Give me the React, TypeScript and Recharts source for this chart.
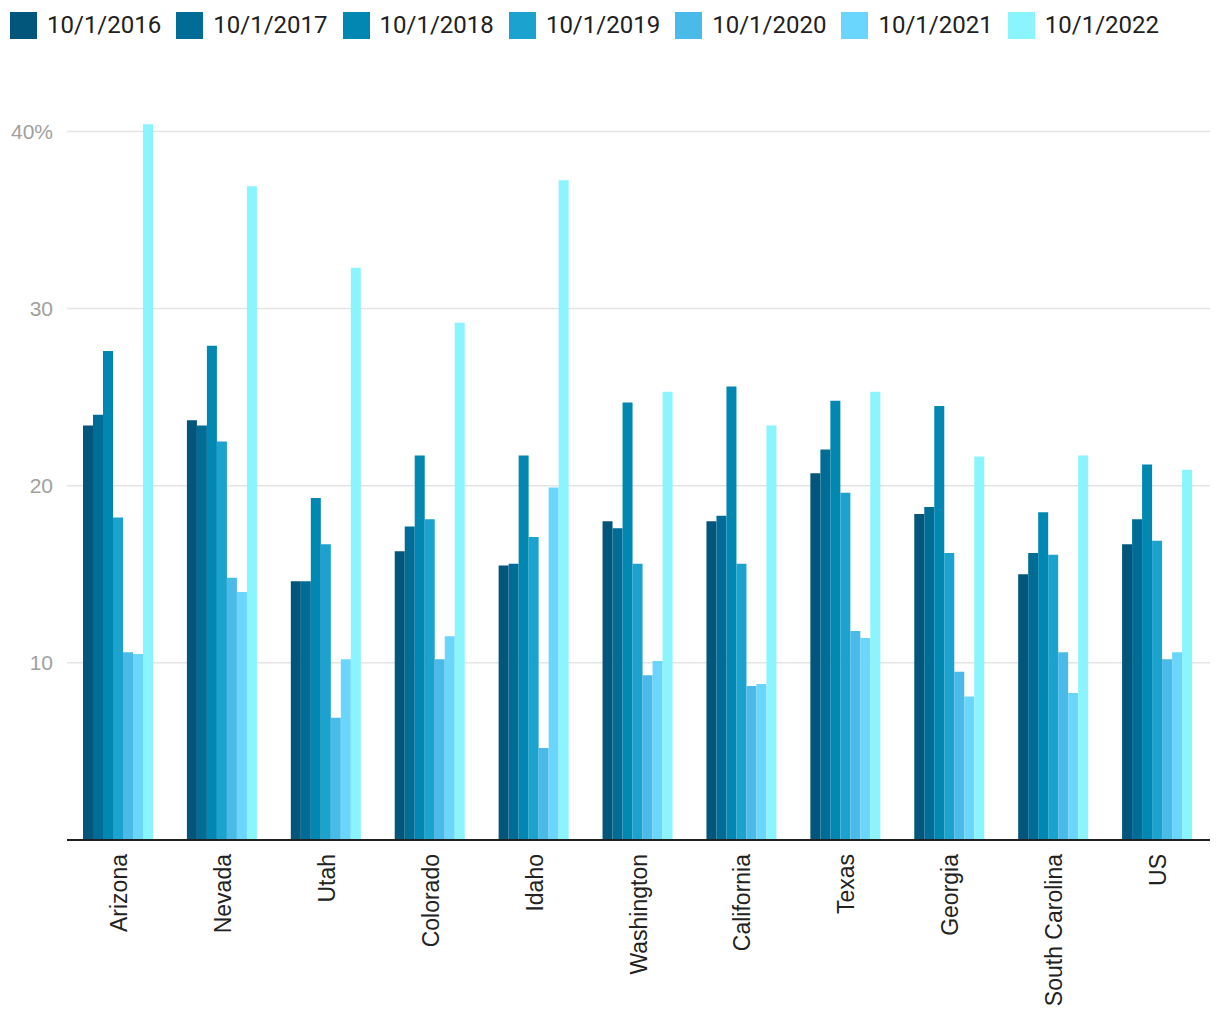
import React from "react";
import {
    BarChart,
    Bar,
    XAxis,
    YAxis,
    CartesianGrid,
    Legend,
} from "recharts";

const states = [
    "Arizona",
    "Nevada",
    "Utah",
    "Colorado",
    "Idaho",
    "Washington",
    "California",
    "Texas",
    "Georgia",
    "South Carolina",
    "US",
];

const years = [
    "10/1/2016",
    "10/1/2017",
    "10/1/2018",
    "10/1/2019",
    "10/1/2020",
    "10/1/2021",
    "10/1/2022",
];

const v2016 = [23.4, 23.7, 14.6, 16.3, 15.5, 18.0, 18.0, 20.7, 18.4, 15.0, 16.7];
const v2017 = [24.0, 23.4, 14.6, 17.7, 15.6, 17.6, 18.3, 22.05, 18.8, 16.2, 18.1];
const v2018 = [27.6, 27.9, 19.3, 21.7, 21.7, 24.7, 25.6, 24.8, 24.5, 18.5, 21.2];
const v2019 = [18.2, 22.5, 16.7, 18.1, 17.1, 15.6, 15.6, 19.6, 16.2, 16.1, 16.9];
const v2020 = [10.6, 14.8, 6.9, 10.2, 5.2, 9.3, 8.7, 11.8, 9.5, 10.6, 10.2];
const v2021 = [10.5, 14.0, 10.2, 11.5, 19.9, 10.1, 8.8, 11.4, 8.1, 8.3, 10.6];
const v2022 = [40.4, 36.9, 32.3, 29.2, 37.25, 25.3, 23.4, 25.3, 21.65, 21.7, 20.9];

const yTicks = [10, 20, 30, 40];
const yMax = 42;

const colors = ["#02557b", "#016d97", "#0088b2", "#1ba2ce", "#4abbe8", "#6ad6fe", "#8af4ff"];

const seriesValues = [v2016, v2017, v2018, v2019, v2020, v2021, v2022];
const keys = years.map((_, i) => `s${i}`);

const data = states.map((name, i) => {
    const row: any = { name };
    keys.forEach((k, j) => {
        row[k] = seriesValues[j][i];
    });
    return row;
});

const StateTick = ({ x, y, payload }: any) => (
    <text
        x={x}
        y={y}
        dy="0.35em"
        transform={`rotate(-90, ${x}, ${y})`}
        textAnchor="end"
        fill="#222"
        fontSize={23}
        fontFamily="'Liberation Sans', Arial, sans-serif"
    >
        {payload.value}
    </text>
);

const LegendContent = () => (
    <div style={{ height: 52, display: "flex", paddingLeft: 10, paddingTop: 12, boxSizing: "border-box" }}>
        {years.map((y, i) => (
            <div key={y} style={{ width: 166.3, display: "flex", alignItems: "center", height: 27 }}>
                <span style={{ width: 27, height: 27, background: colors[i], display: "inline-block" }} />
                <span
                    style={{
                        marginLeft: 10,
                        fontFamily: "Roboto, sans-serif",
                        fontSize: 24,
                        color: "#212121",
                        lineHeight: "27px",
                    }}
                >
                    {y}
                </span>
            </div>
        ))}
    </div>
);

// grid lines only at the labelled ticks, not at the top of the domain
const gridRows = ({ offset }: any) => {
    if (!offset) return [];
    return yTicks.map((t) => offset.top + offset.height * (1 - t / yMax));
};

export default function App() {
    return (
        <div style={{ position: "absolute", left: 0, top: 0, background: "#fff" }}>
            <BarChart
                width={1220}
                height={1020}
                data={data}
                margin={{ top: 44, right: 10, left: 0, bottom: 0 }}
                barCategoryGap={16}
                barGap={0}
            >
                <Legend
                    verticalAlign="top"
                    align="left"
                    content={<LegendContent />}
                    wrapperStyle={{ top: 0, left: 0, width: 1220 }}
                />
                <CartesianGrid
                    vertical={false}
                    stroke="#e4e4e4"
                    strokeWidth={1.5}
                    horizontalCoordinatesGenerator={gridRows}
                />
                <XAxis
                    dataKey="name"
                    interval={0}
                    height={180}
                    tick={<StateTick />}
                    tickLine={false}
                    tickSize={0}
                    tickMargin={14}
                    axisLine={{ stroke: "#212121", strokeWidth: 2 }}
                />
                <YAxis
                    width={67}
                    domain={[0, yMax]}
                    ticks={yTicks}
                    axisLine={false}
                    tickLine={false}
                    tickSize={0}
                    tickMargin={14}
                    tick={{ fill: "#a0a0a0", fontSize: 21, fontFamily: "'Liberation Sans', Arial, sans-serif" }}
                    tickFormatter={(v) => (v === 40 ? "40%" : String(v))}
                />
                {keys.map((k, i) => (
                    <Bar key={k} dataKey={k} name={years[i]} fill={colors[i]} isAnimationActive={false} />
                ))}
            </BarChart>
        </div>
    );
}
